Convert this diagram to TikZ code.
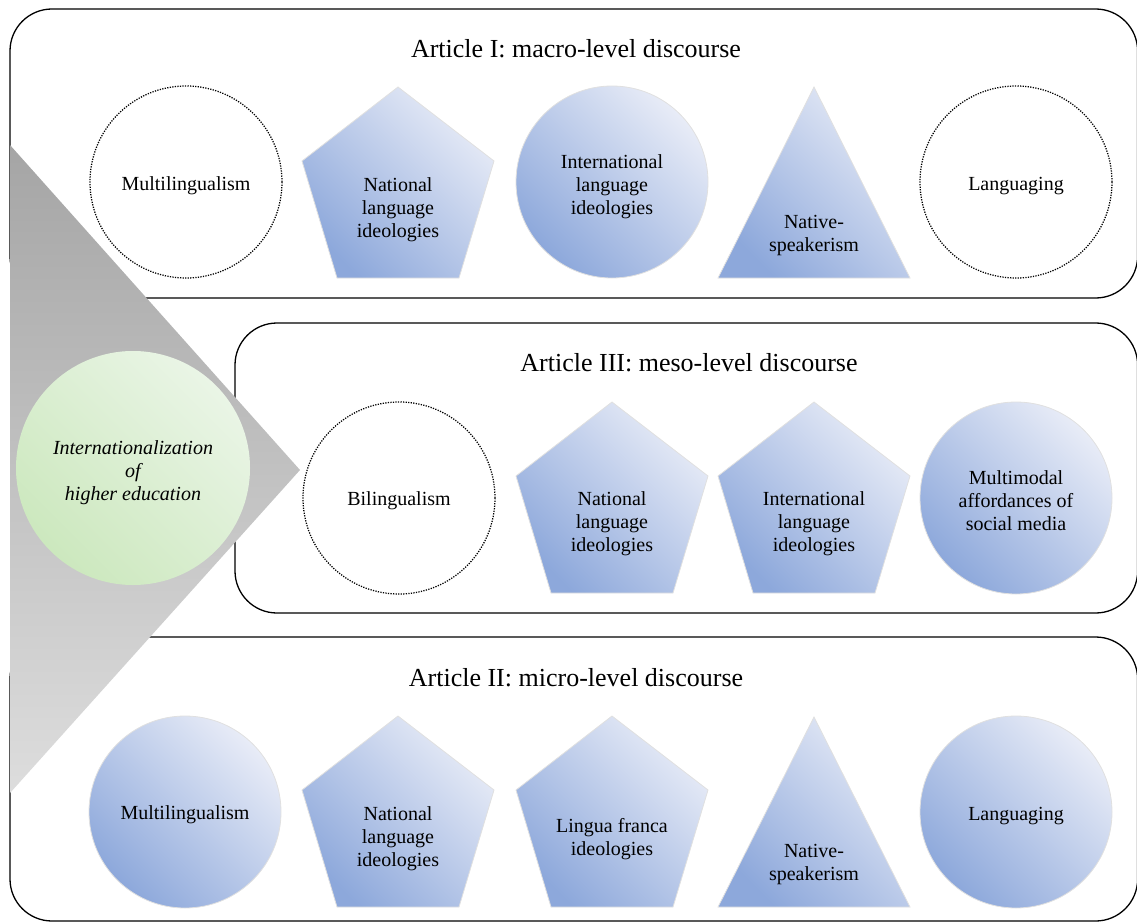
\documentclass[tikz,border=0pt]{standalone}
\usepackage{fontspec}
\setmainfont{Liberation Serif}
\definecolor{bdark}{HTML}{8DA8DB}
\definecolor{blight}{HTML}{E8ECF7}
\definecolor{gdark}{HTML}{CCE8BE}
\definecolor{glight}{HTML}{EAF5E6}
\definecolor{gtop}{HTML}{A5A5A5}
\definecolor{gbot}{HTML}{DDDDDD}
\tikzset{
  panel/.style={draw=black, line width=1.3pt, rounded corners=42pt},
  bluefill/.style={top color=blight, bottom color=bdark, shading angle=-45, draw=white!88!black, line width=0.8pt},
  greenfill/.style={top color=glight, bottom color=gdark, shading angle=-45},
  dotcircle/.style={draw=black, line width=1.25pt, dash pattern=on 1.25pt off 1.3pt},
  title/.style={font=\fontsize{26}{30}\selectfont, inner sep=0pt},
  label/.style={font=\fontsize{20}{23}\selectfont, align=center, inner sep=0pt},
  centerlabel/.style={font=\fontsize{20}{23}\selectfont\itshape, align=center, inner sep=0pt}
}
\begin{document}
\begin{tikzpicture}[x=1pt,y=-1pt]
\useasboundingbox (0,0) rectangle (1137,923);
% panels
\draw[panel] (10,9) rectangle (1137.6,298);
\draw[panel] (235,323) rectangle (1137.6,613);
\draw[panel] (10,637) rectangle (1137.6,921);
% gray triangle
\path[top color=gtop, bottom color=gbot] (10,145) -- (300,470) -- (10,793) -- cycle;
% green circle
\path[greenfill] (133,468) circle[radius=117];
\node[centerlabel] (ihe) at (133,473) {Internationalization\\of\\higher education};
% titles
\node[title] (t1) at (576,48.5) {Article I: macro-level discourse};
\node[title] (t3) at (689,362.5) {Article III: meso-level discourse};
\node[title] (t2) at (576,677.5) {Article II: micro-level discourse};
% ---- top row
\draw[dotcircle] (186,182) circle[radius=96];
\node[label] (a1) at (186,186) {Multilingualism};
\path[bluefill] (398,87) -- ++(96,74) -- ++(-35,117) -- ++(-122,0) -- ++(-35,-117) -- cycle;
\node[label] (a2) at (398,210) {National\\language\\ideologies};
\path[bluefill] (612,182) circle[radius=96];
\node[label] (a3) at (612,187) {International\\language\\ideologies};
\path[bluefill] (814,87) -- (910,278) -- (718,278) -- cycle;
\node[label] (a4) at (814,236) {Native-\\speakerism};
\draw[dotcircle] (1016,182) circle[radius=96];
\node[label] (a5) at (1016,186) {Languaging};
% ---- middle row
\draw[dotcircle] (399,498) circle[radius=96];
\node[label] (b1) at (399,501) {Bilingualism};
\path[bluefill] (612,402) -- ++(96,74) -- ++(-35,117) -- ++(-122,0) -- ++(-35,-117) -- cycle;
\node[label] (b2) at (612,524) {National\\language\\ideologies};
\path[bluefill] (814,402) -- ++(96,74) -- ++(-35,117) -- ++(-122,0) -- ++(-35,-117) -- cycle;
\node[label] (b3) at (814,524) {International\\language\\ideologies};
\path[bluefill] (1016,498) circle[radius=96];
\node[label] (b4) at (1016,501) {Multimodal\\affordances of\\social media};
% ---- bottom row
\path[bluefill] (185,812) circle[radius=96];
\node[label] (c1) at (185,815) {Multilingualism};
\path[bluefill] (398,716) -- ++(96,74) -- ++(-35,117) -- ++(-122,0) -- ++(-35,-117) -- cycle;
\node[label] (c2) at (398,839) {National\\language\\ideologies};
\path[bluefill] (612,716) -- ++(96,74) -- ++(-35,117) -- ++(-122,0) -- ++(-35,-117) -- cycle;
\node[label] (c3) at (612,839) {Lingua franca\\ideologies};
\path[bluefill] (814,717) -- (910,907) -- (718,907) -- cycle;
\node[label] (c4) at (814,864) {Native-\\speakerism};
\path[bluefill] (1016,812) circle[radius=96];
\node[label] (c5) at (1016,816) {Languaging};
\end{tikzpicture}
\end{document}
